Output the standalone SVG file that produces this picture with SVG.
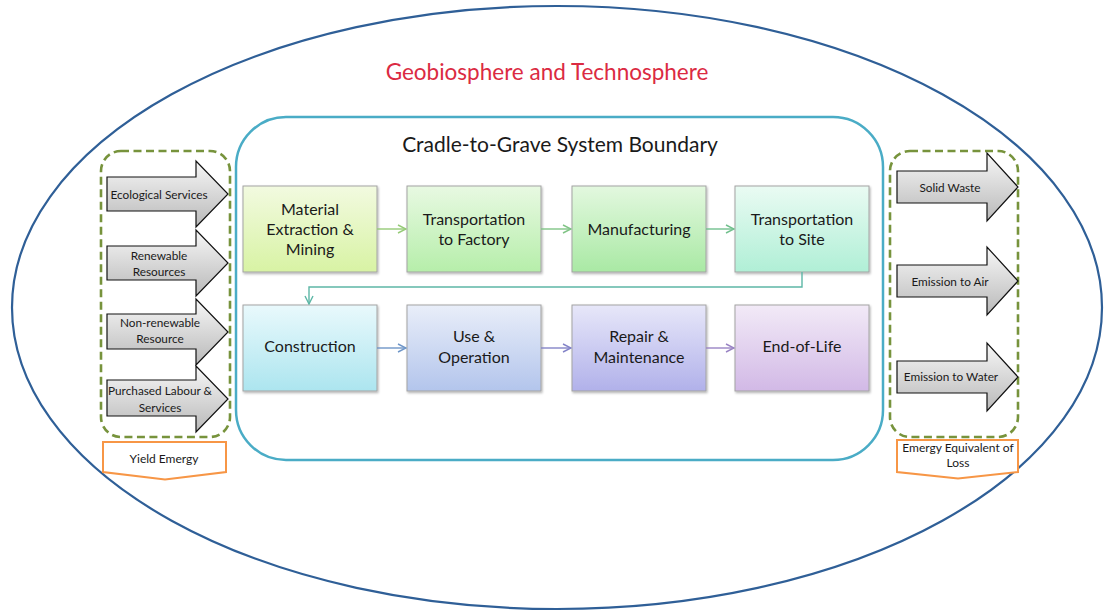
<svg xmlns="http://www.w3.org/2000/svg" width="1104" height="612" viewBox="0 0 1104 612">
  <defs>
    <style>
      text { font-family: Lato, "Liberation Sans", sans-serif; fill: #1a1a1a; text-anchor: middle; }
      .big { font-size: 22.5px; }
      .stage { font-size: 16px; }
      .small { font-size: 11.8px; }
      .tag { font-size: 12px; }
      .box { stroke: #a3a3a3; stroke-width: 1; filter: url(#shadow); }
      .flow { stroke: #111; stroke-width: 1.2; fill: url(#grey); }
      .dash { fill: none; stroke: #77933c; stroke-width: 2.6; stroke-dasharray: 8 4.5; }
      .tagbox { fill: #fff; stroke: #f79646; stroke-width: 2; }
      .link { fill: none; stroke-width: 1.4; }
    </style>
    <filter id="shadow" x="-10%" y="-10%" width="125%" height="130%">
      <feDropShadow dx="1" dy="1.5" stdDeviation="1.2" flood-color="#000" flood-opacity="0.3"/>
    </filter>
    <linearGradient id="grey" x1="0" y1="0" x2="0" y2="1">
      <stop offset="0" stop-color="#f7f7f7"/>
      <stop offset="1" stop-color="#b9b9b9"/>
    </linearGradient>
    <linearGradient id="g1" x1="0" y1="0" x2="0" y2="1"><stop offset="0" stop-color="#f2fae0"/><stop offset="1" stop-color="#d8f3a4"/></linearGradient>
    <linearGradient id="g2" x1="0" y1="0" x2="0" y2="1"><stop offset="0" stop-color="#e8f9e2"/><stop offset="1" stop-color="#b6eeaa"/></linearGradient>
    <linearGradient id="g3" x1="0" y1="0" x2="0" y2="1"><stop offset="0" stop-color="#e3f8df"/><stop offset="1" stop-color="#a9e9a4"/></linearGradient>
    <linearGradient id="g4" x1="0" y1="0" x2="0" y2="1"><stop offset="0" stop-color="#eafbf3"/><stop offset="1" stop-color="#b0efd6"/></linearGradient>
    <linearGradient id="g5" x1="0" y1="0" x2="0" y2="1"><stop offset="0" stop-color="#e9f9fc"/><stop offset="1" stop-color="#ace5ef"/></linearGradient>
    <linearGradient id="g6" x1="0" y1="0" x2="0" y2="1"><stop offset="0" stop-color="#e9eef9"/><stop offset="1" stop-color="#b3c5ec"/></linearGradient>
    <linearGradient id="g7" x1="0" y1="0" x2="0" y2="1"><stop offset="0" stop-color="#e7e7f9"/><stop offset="1" stop-color="#b1b1ea"/></linearGradient>
    <linearGradient id="g8" x1="0" y1="0" x2="0" y2="1"><stop offset="0" stop-color="#f2eaf7"/><stop offset="1" stop-color="#d2b9e6"/></linearGradient>
    <marker id="aGreen1" viewBox="0 0 10 10" refX="9" refY="5" markerUnits="userSpaceOnUse" markerWidth="10" markerHeight="10" orient="auto"><path d="M1,1 L9,5 L1,9" fill="none" stroke="#96cb78" stroke-width="1.4"/></marker>
    <marker id="aGreen2" viewBox="0 0 10 10" refX="9" refY="5" markerUnits="userSpaceOnUse" markerWidth="10" markerHeight="10" orient="auto"><path d="M1,1 L9,5 L1,9" fill="none" stroke="#80c486" stroke-width="1.4"/></marker>
    <marker id="aGreen3" viewBox="0 0 10 10" refX="9" refY="5" markerUnits="userSpaceOnUse" markerWidth="10" markerHeight="10" orient="auto"><path d="M1,1 L9,5 L1,9" fill="none" stroke="#72c08e" stroke-width="1.4"/></marker>
    <marker id="aTeal" viewBox="0 0 10 10" refX="9" refY="5" markerUnits="userSpaceOnUse" markerWidth="10" markerHeight="10" orient="auto"><path d="M1,1 L9,5 L1,9" fill="none" stroke="#5db7a6" stroke-width="1.4"/></marker>
    <marker id="aBlue" viewBox="0 0 10 10" refX="9" refY="5" markerUnits="userSpaceOnUse" markerWidth="10" markerHeight="10" orient="auto"><path d="M1,1 L9,5 L1,9" fill="none" stroke="#6f96c8" stroke-width="1.4"/></marker>
    <marker id="aIndigo" viewBox="0 0 10 10" refX="9" refY="5" markerUnits="userSpaceOnUse" markerWidth="10" markerHeight="10" orient="auto"><path d="M1,1 L9,5 L1,9" fill="none" stroke="#8484c8" stroke-width="1.4"/></marker>
    <marker id="aViolet" viewBox="0 0 10 10" refX="9" refY="5" markerUnits="userSpaceOnUse" markerWidth="10" markerHeight="10" orient="auto"><path d="M1,1 L9,5 L1,9" fill="none" stroke="#9a84c4" stroke-width="1.4"/></marker>
  </defs>

  <rect width="1104" height="612" fill="#fff"/>

  <!-- outer sphere -->
  <g id="sphere">
    <ellipse cx="557" cy="307.5" rx="545" ry="301.5" fill="none" stroke="#2f5f97" stroke-width="2.2"/>
    <text class="big" x="547" y="80" style="fill:#db2a42">Geobiosphere and Technosphere</text>
  </g>

  <!-- system boundary -->
  <g id="boundary">
    <rect x="236" y="117" width="647" height="343" rx="50" fill="none" stroke="#4aacc6" stroke-width="2.5"/>
    <text class="big" x="560" y="152" style="font-size:21px">Cradle-to-Grave System Boundary</text>
  </g>

  <!-- life-cycle stages -->
  <g id="material">
    <rect class="box" x="243" y="186" width="134" height="86" fill="url(#g1)"/>
    <text class="stage" x="310" y="215">Material</text>
    <text class="stage" x="310" y="235">Extraction &amp;</text>
    <text class="stage" x="310" y="255">Mining</text>
  </g>
  <g id="transport-factory">
    <rect class="box" x="407" y="186" width="134" height="86" fill="url(#g2)"/>
    <text class="stage" x="474" y="225">Transportation</text>
    <text class="stage" x="474" y="245">to Factory</text>
  </g>
  <g id="manufacturing">
    <rect class="box" x="572" y="186" width="134" height="86" fill="url(#g3)"/>
    <text class="stage" x="639" y="235">Manufacturing</text>
  </g>
  <g id="transport-site">
    <rect class="box" x="735" y="186" width="134" height="86" fill="url(#g4)"/>
    <text class="stage" x="802" y="225">Transportation</text>
    <text class="stage" x="802" y="245">to Site</text>
  </g>
  <g id="construction">
    <rect class="box" x="243" y="305" width="134" height="86" fill="url(#g5)"/>
    <text class="stage" x="310" y="352">Construction</text>
  </g>
  <g id="use">
    <rect class="box" x="407" y="305" width="134" height="86" fill="url(#g6)"/>
    <text class="stage" x="474" y="342">Use &amp;</text>
    <text class="stage" x="474" y="363">Operation</text>
  </g>
  <g id="repair">
    <rect class="box" x="572" y="305" width="134" height="86" fill="url(#g7)"/>
    <text class="stage" x="639" y="342">Repair &amp;</text>
    <text class="stage" x="639" y="363">Maintenance</text>
  </g>
  <g id="end-of-life">
    <rect class="box" x="735" y="305" width="134" height="86" fill="url(#g8)"/>
    <text class="stage" x="802" y="352">End-of-Life</text>
  </g>

  <!-- stage connectors -->
  <g id="connectors">
    <path class="link" d="M377,229 H406" stroke="#96cb78" marker-end="url(#aGreen1)"/>
    <path class="link" d="M541,229 H571" stroke="#80c486" marker-end="url(#aGreen2)"/>
    <path class="link" d="M706,229 H734" stroke="#72c08e" marker-end="url(#aGreen3)"/>
    <path class="link" d="M802,272 V287 H309 V304" stroke="#5db7a6" marker-end="url(#aTeal)"/>
    <path class="link" d="M377,348 H406" stroke="#6f96c8" marker-end="url(#aBlue)"/>
    <path class="link" d="M541,348 H571" stroke="#8484c8" marker-end="url(#aIndigo)"/>
    <path class="link" d="M706,348 H734" stroke="#9a84c4" marker-end="url(#aViolet)"/>
  </g>

  <!-- inputs -->
  <g id="inputs">
    <rect class="dash" x="101" y="151" width="129" height="286" rx="20"/>
    <g id="in-ecological">
      <polygon class="flow" points="107,177 196,177 196,161 228,194 196,227 196,211 107,211"/>
      <text class="small" x="159" y="199">Ecological Services</text>
    </g>
    <g id="in-renewable">
      <polygon class="flow" points="107,246 196,246 196,230 228,263 196,296 196,280 107,280"/>
      <text class="small" x="159" y="260">Renewable</text>
      <text class="small" x="159" y="276">Resources</text>
    </g>
    <g id="in-nonrenewable">
      <polygon class="flow" points="107,314 196,314 196,299 228,332 196,365 196,349 107,349"/>
      <text class="small" x="160" y="327">Non-renewable</text>
      <text class="small" x="160" y="343">Resource</text>
    </g>
    <g id="in-purchased">
      <polygon class="flow" points="107,380 196,380 196,366 228,399 196,432 196,416 107,416"/>
      <text class="small" x="160" y="395">Purchased Labour &amp;</text>
      <text class="small" x="160" y="412">Services</text>
    </g>
  </g>
  <g id="yield-emergy">
    <path class="tagbox" d="M103,442 H226 V472 L165,479.5 L103,472 Z"/>
    <text class="tag" x="164" y="463">Yield Emergy</text>
  </g>

  <!-- outputs -->
  <g id="outputs">
    <rect class="dash" x="890" y="151" width="128" height="286" rx="20"/>
    <g id="out-solid">
      <polygon class="flow" points="897,171 987,171 987,153 1018,187 987,221 987,203 897,203"/>
      <text class="small" x="950" y="192">Solid Waste</text>
    </g>
    <g id="out-air">
      <polygon class="flow" points="897,265 987,265 987,247 1018,281 987,315 987,297 897,297"/>
      <text class="small" x="950" y="286">Emission to Air</text>
    </g>
    <g id="out-water">
      <polygon class="flow" points="897,361 987,361 987,343 1018,377 987,411 987,393 897,393"/>
      <text class="small" x="951" y="381">Emission to Water</text>
    </g>
  </g>
  <g id="loss-emergy">
    <path class="tagbox" d="M897,440 H1018 V472 L958,478.5 L897,472 Z"/>
    <text class="tag" x="958" y="452">Emergy Equivalent of</text>
    <text class="tag" x="958" y="467">Loss</text>
  </g>
</svg>
